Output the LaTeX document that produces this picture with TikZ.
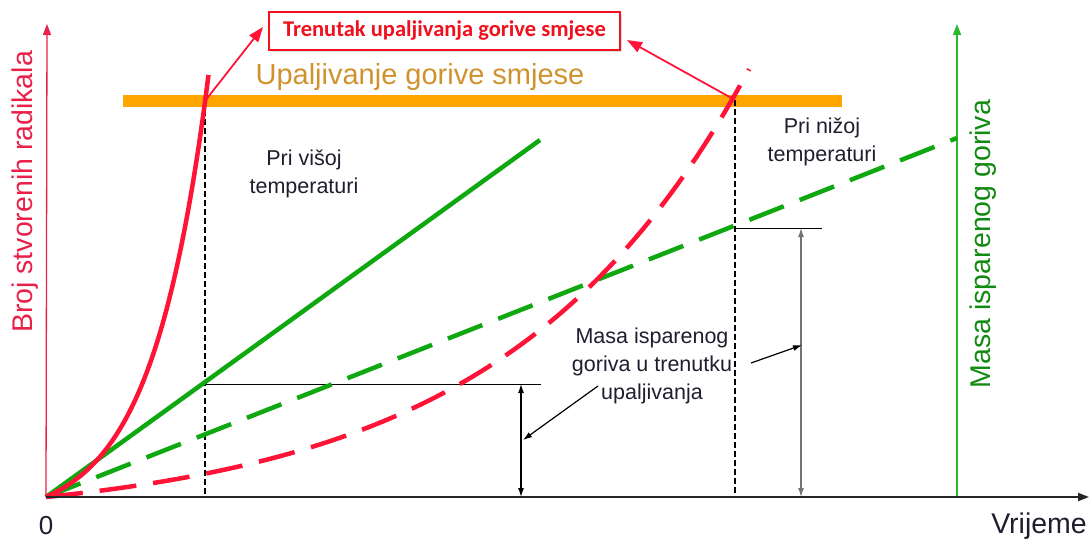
\documentclass[tikz,border=0pt]{standalone}
\usepackage{fontspec}
\setmainfont{Liberation Sans}
\newfontfamily\boxfont{Carlito}
\usetikzlibrary{arrows.meta,shadows}
\definecolor{axred}{HTML}{E8204A}
\definecolor{cred}{HTML}{FF1438}
\definecolor{cgreen}{HTML}{10A810}
\definecolor{axgreen}{HTML}{2DB82D}
\definecolor{lgreen}{HTML}{118A11}
\definecolor{corange}{HTML}{FFA500}
\definecolor{otext}{HTML}{D0922E}
\definecolor{dtext}{HTML}{1E1E2E}
\definecolor{boxred}{HTML}{F0101E}
\begin{document}
\begin{tikzpicture}[x=1pt,y=-1pt,
  curve/.style={line width=4.5pt},
  dashcurve/.style={line width=4.5pt, dash pattern=on 37pt off 17pt},
  guide/.style={line width=1.1pt, dash pattern=on 6pt off 3pt, black},
  thinline/.style={line width=1pt, black},
  dim/.style={line width=1.2pt, {Latex[length=9pt,width=6pt]}-{Latex[length=9pt,width=6pt]}},
  pointer/.style={line width=1.2pt, black, -{Latex[length=9pt,width=6pt]}},
  redptr/.style={line width=1.8pt, cred, -{Triangle[length=15pt,width=11pt]}},
  small/.style={font=\fontsize{21.5}{28}\selectfont, text=dtext, align=center, inner sep=0pt},
  big/.style={font=\fontsize{28.5}{32}\selectfont, inner sep=0pt}
]
\useasboundingbox (0,0) rectangle (1091,543);

% coordinates
\coordinate (O) at (46,497);
\coordinate (XE) at (1089,497);
\coordinate (YT) at (47,24);
\coordinate (G0) at (957,497);
\coordinate (GT) at (957,24);
\coordinate (OB1) at (123,101);
\coordinate (OB2) at (842,101);
\coordinate (I1) at (205,101);
\coordinate (I2) at (735,100);
\coordinate (B1) at (205,497);
\coordinate (B2) at (735,497);
\coordinate (GS) at (540,140);
\coordinate (GD) at (957,138);
\coordinate (H1a) at (205,384);
\coordinate (H1b) at (541,384);
\coordinate (H2a) at (735,228);
\coordinate (H2b) at (822,228);
\coordinate (D1t) at (521,384);
\coordinate (D1b) at (521,497);
\coordinate (D2t) at (801,228);
\coordinate (D2b) at (801,497);
\coordinate (P1s) at (598,386);
\coordinate (P1e) at (523,440);
\coordinate (P2s) at (751,363);
\coordinate (P2e) at (802,345);
\coordinate (A1) at (263,27);
\coordinate (A2) at (627,40);

% orange bar
\draw[corange, line width=12pt] (OB1) -- (OB2);

% axes
\draw[axred, line width=1.3pt, -{Triangle[length=11pt,width=8pt]}] (O) -- (YT);
\draw[axgreen, line width=1.6pt, -{Triangle[length=11pt,width=8pt]}] (G0) -- (GT);

% guides
\draw[guide] (I1) -- (B1);
\draw[guide] (I2) -- (B2);
\draw[thinline] (H1a) -- (H1b);
\draw[thinline] (H2a) -- (H2b);
\draw[dim, black] (D1t) -- (D1b);
\draw[dim, black!55] (D2t) -- (D2b);

% curves
\draw[curve, cgreen] (O) -- (GS);
\draw[dashcurve, cgreen] (O) -- (GD);
\draw[dashcurve, cred] plot[domain=46:749, samples=120] (\x, {497-25.3*(exp(0.0041*(\x-46))-1)});
\draw[curve, cred] plot[domain=46:208.5, samples=100] (\x, {497-25.2*(exp(0.0177*(\x-46))-1)});

% x axis
\draw[black!85, line width=2pt, -{Triangle[length=11pt,width=8pt]}] (O) -- (XE);

% title box
\node[draw=boxred, line width=2pt, fill=white, text=boxred, minimum width=351pt, minimum height=38pt,
  inner sep=0pt, drop shadow={opacity=0.25, shadow xshift=2pt, shadow yshift=-2pt},
  font=\boxfont\bfseries\fontsize{22.5}{26}\selectfont] (box) at (444.5,31) {Trenutak upaljivanja gorive smjese};
\draw[redptr] (I1) -- (A1);
\draw[redptr] (I2) -- (A2);

% texts
\node[big, text=otext, font=\fontsize{29}{32}\selectfont] (ups) at (420,77) {Upaljivanje gorive smjese};
\node[small] (hot) at (304,174) {Pri višoj\\temperaturi};
\node[small] (cold) at (822,142) {Pri nižoj\\temperaturi};
\node[small] (mass) at (652,366) {Masa isparenog\\goriva u trenutku\\upaljivanja};
\draw[pointer] (P1s) -- (P1e);
\draw[pointer] (P2s) -- (P2e);

\node[big, text=axred, rotate=90] (ylab) at (25,192) {Broj stvorenih radikala};
\node[big, text=lgreen, rotate=90] (y2lab) at (983,244) {Masa isparenog goriva};
\node[big, text=dtext, font=\fontsize{26}{30}\selectfont] (zero) at (46,526) {0};
\node[big, text=dtext, anchor=east] (vr) at (1087,526) {Vrijeme};
\end{tikzpicture}
\end{document}
